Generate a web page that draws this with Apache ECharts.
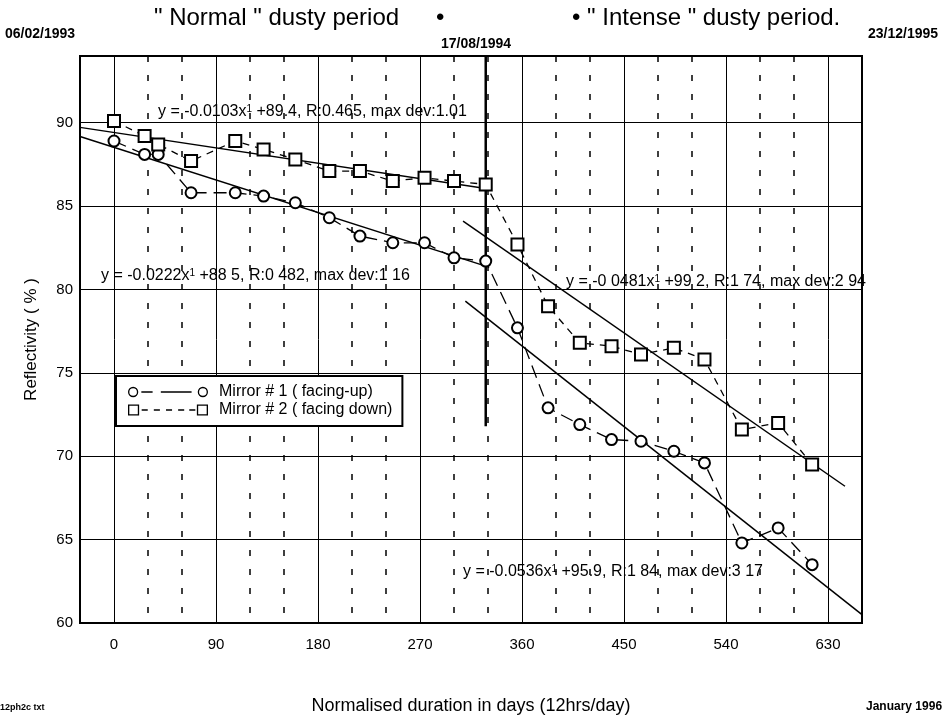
<!DOCTYPE html>
<html>
<head>
<meta charset="utf-8">
<title>Reflectivity of mirrors</title>
<script src="https://cdn.jsdelivr.net/npm/echarts@6/dist/echarts.min.js"></script>
<style>
html,body{margin:0;padding:0;background:#fff}
#main{width:947px;height:720px}
</style>
</head>
<body>
<div id="main"></div>
<script type="text/javascript">
// normalised duration (days) of each measurement
var days = [0, 27, 39, 68, 107, 132, 160, 190, 217, 246, 274, 300, 328, 356, 383, 411, 439, 465, 494, 521, 554, 586, 616];
// reflectivity (%)
var mirror1 = [88.9, 88.1, 88.1, 85.8, 85.8, 85.6, 85.2, 84.3, 83.2, 82.8, 82.8, 81.9, 81.7, 77.7, 72.9, 71.9, 71.0, 70.9, 70.3, 69.6, 64.8, 65.7, 63.5];
var mirror2 = [90.1, 89.2, 88.7, 87.7, 88.9, 88.4, 87.8, 87.1, 87.1, 86.5, 86.7, 86.5, 86.3, 82.7, 79.0, 76.8, 76.6, 76.1, 76.5, 75.8, 71.6, 72.0, 69.5];

// regression lines (end points)
var fitNormal2 = [[-30, 89.72], [328, 86.05]];
var fitNormal1 = [[-30, 89.17], [328, 81.4]];
var fitIntense2 = [[308, 84.1], [645, 68.2]];
var fitIntense1 = [[310, 79.3], [660, 60.5]];
// 17/08/1994 divider
var divider = [[328, 94], [328, 71.8]];

var xLabels = [0, 90, 180, 270, 360, 450, 540, 630];
var yLabels = [60, 65, 70, 75, 80, 85, 90];

var FONT = '"Liberation Sans", Arial, Helvetica, sans-serif';

function pairs(xs, ys) {
    return xs.map(function (x, i) { return [x, ys[i]]; });
}

// legend icons : symbol - dash - symbol
var iconCircle = 'path://M1,6a5,5 0 1,0 10,0a5,5 0 1,0 -10,0Z M2.3,6a3.7,3.7 0 1,1 7.4,0a3.7,3.7 0 1,1 -7.4,0Z'
    + 'M14,5.3h11v1.4h-11Z M33,5.3h30v1.4h-30Z'
    + 'M69,6a5,5 0 1,0 10,0a5,5 0 1,0 -10,0Z M70.3,6a3.7,3.7 0 1,1 7.4,0a3.7,3.7 0 1,1 -7.4,0Z';
var iconSquare = 'path://M0.5,0.5H11.5V11.5H0.5Z M1.8,1.8V10.2H10.2V1.8Z'
    + 'M14,5.3h6v1.4h-6Z M26,5.3h6v1.4h-6Z M38,5.3h6v1.4h-6Z M50,5.3h6v1.4h-6Z M61,5.3h6v1.4h-6Z'
    + 'M68.5,0.5H79.5V11.5H68.5Z M69.8,1.8V10.2H78.2V1.8Z';

var supRich = { s: { fontSize: 10, verticalAlign: 'top', fontFamily: FONT, color: '#000' } };

function eqText(x, y, txt) {
    return {
        type: 'text', left: x, top: y, z: 100,
        style: { text: txt, fontSize: 16, fontFamily: FONT, fill: '#000', rich: supRich }
    };
}
function plainText(x, y, txt, size, bold) {
    return {
        type: 'text', left: x, top: y, z: 100,
        style: { text: txt, fontSize: size, fontWeight: bold ? 'bold' : 'normal', fontFamily: FONT, fill: '#000' }
    };
}

var fitStyle = { color: '#000', width: 1.5, type: 'solid' };

var option = {
    animation: false,
    backgroundColor: '#fff',
    grid: { left: 80, right: 85, top: 56, bottom: 94, show: true, borderColor: '#000', borderWidth: 2, backgroundColor: 'transparent' },
    legend: {
        left: 116, top: 376, orient: 'vertical', selectedMode: false,
        padding: [8, 10, 8, 12], itemGap: 2, itemWidth: 80, itemHeight: 12,
        borderColor: '#000', borderWidth: 2, backgroundColor: '#fff',
        textStyle: { fontSize: 16, color: '#000', fontFamily: FONT, padding: [0, 0, 0, 6] },
        itemStyle: { color: '#000', borderWidth: 0 },
        data: [
            { name: 'Mirror # 1 ( facing-up)', icon: iconCircle },
            { name: 'Mirror # 2 ( facing down)', icon: iconSquare }
        ]
    },
    xAxis: [{
        type: 'value', min: -30, max: 660, interval: 30,
        name: 'Normalised duration in days (12hrs/day)', nameLocation: 'middle', nameGap: 74,
        nameTextStyle: { fontSize: 18, color: '#000', fontFamily: FONT },
        axisLine: { show: false }, axisTick: { show: false },
        axisLabel: {
            margin: 14, fontSize: 15, color: '#000', fontFamily: FONT,
            formatter: function (v) { return xLabels.indexOf(v) >= 0 ? String(v) : ''; }
        },
        // solid lines every 90 days
        splitLine: { show: true, lineStyle: { color: ['transparent', '#000', 'transparent'], width: 1 } }
    }, {
        type: 'value', min: -30, max: 660, interval: 30, position: 'bottom',
        axisLine: { show: false }, axisTick: { show: false }, axisLabel: { show: false },
        // dotted lines in between
        splitLine: { show: true, lineStyle: { color: ['#000', 'transparent', '#000'], width: 1.5, type: [6, 13] } }
    }],
    yAxis: {
        type: 'value', min: 60, max: 94, interval: 5,
        name: 'Reflectivity ( % )', nameLocation: 'middle', nameGap: 40, nameRotate: 90,
        nameTextStyle: { fontSize: 17, color: '#000', fontFamily: FONT },
        axisLine: { show: false }, axisTick: { show: false },
        axisLabel: {
            margin: 7, fontSize: 15, color: '#000', fontFamily: FONT,
            formatter: function (v) { return yLabels.indexOf(v) >= 0 ? String(v) : ''; }
        },
        splitLine: { show: true, lineStyle: { color: '#000', width: 1 } }
    },
    series: [{
        name: 'Mirror # 1 ( facing-up)', type: 'line', data: pairs(days, mirror1),
        symbol: 'emptyCircle', symbolSize: 11, color: '#000', z: 5,
        itemStyle: { color: '#000', borderWidth: 1.5 },
        lineStyle: { color: '#000', width: 1.3, type: [13, 7] }
    }, {
        name: 'Mirror # 2 ( facing down)', type: 'line', data: pairs(days, mirror2),
        symbol: 'emptyRect', symbolSize: 12, color: '#000', z: 5,
        itemStyle: { color: '#000', borderWidth: 1.5 },
        lineStyle: { color: '#000', width: 1.3, type: [7, 6] }
    },
    { name: 'fitN2', type: 'line', data: fitNormal2, symbol: 'none', lineStyle: fitStyle, z: 4 },
    { name: 'fitN1', type: 'line', data: fitNormal1, symbol: 'none', lineStyle: fitStyle, z: 4 },
    { name: 'fitI2', type: 'line', data: fitIntense2, symbol: 'none', lineStyle: fitStyle, z: 4 },
    { name: 'fitI1', type: 'line', data: fitIntense1, symbol: 'none', lineStyle: fitStyle, z: 4 },
    { name: 'divider', type: 'line', data: divider, symbol: 'none', lineStyle: { color: '#000', width: 2.5 }, z: 4 }
    ],
    graphic: [
        // heading
        plainText(154, 6, '" Normal " dusty period', 24, false),
        plainText(436, 6, '\u2022', 24, false),
        plainText(572, 6, '\u2022 " Intense " dusty period.', 24, false),
        plainText(5, 27, '06/02/1993', 14, true),
        plainText(441, 37, '17/08/1994', 14, true),
        plainText(868, 27, '23/12/1995', 14, true),
        // fit equations
        eqText(158, 104, 'y = -0.0103x{s|1} +89.4, R:0.465, max dev:1.01'),
        eqText(101, 268, 'y = -0.0222x{s|1} +88 5, R:0 482, max dev:1 16'),
        eqText(566, 274, 'y = -0 0481x{s|1} +99 2, R:1 74, max dev:2 94'),
        eqText(463, 564, 'y = -0.0536x{s|1} +95.9, R:1 84, max dev:3 17'),
        // footer
        plainText(0, 703, '12ph2c txt', 9, true),
        plainText(866, 701, 'January 1996', 12, true)
    ]
};

var myChart = echarts.init(document.getElementById('main'));
myChart.setOption(option);
</script>
</body>
</html>
